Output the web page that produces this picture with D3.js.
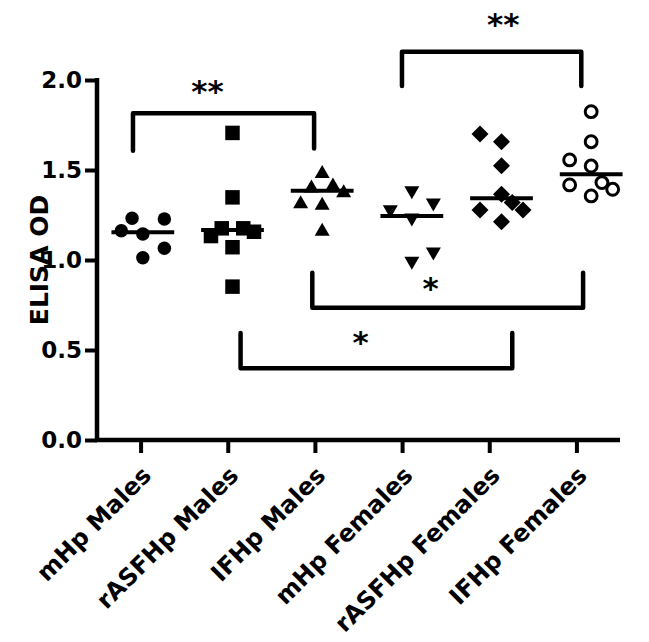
<!DOCTYPE html>
<html lang="en">
    <head>
        <meta charset="utf-8">
        <title>ELISA OD</title>
        <script src="https://d3js.org/d3.v7.min.js"></script>
        <style>
            body { margin: 0; background: #fff; }
            text { font-family: "DejaVu Sans", sans-serif; font-weight: bold; fill: #000; }
        </style>
    </head>
    <body>
        <script type="text/javascript">
            var width = 649, height = 642;

            // groups along the x axis
            var categories = ["mHp Males", "rASFHp Males", "IFHp Males",
                              "mHp Females", "rASFHp Females", "IFHp Females"];
            var yTicks = [0, 0.5, 1.0, 1.5, 2.0];

            // ELISA OD values per group
            var mHpMales      = [1.163, 1.232, 1.144, 1.228, 1.065, 1.013];
            var rASFHpMales   = [1.706, 1.348, 1.176, 1.176, 1.133, 1.157, 1.071, 0.852];
            var IFHpMales     = [1.491, 1.411, 1.422, 1.385, 1.324, 1.315, 1.171];
            var mHpFemales    = [1.374, 1.306, 1.268, 1.222, 1.033, 0.982];
            var rASFHpFemales = [1.700, 1.657, 1.524, 1.365, 1.278, 1.320, 1.278, 1.213];
            var IFHpFemales   = [1.824, 1.657, 1.556, 1.522, 1.417, 1.356, 1.430, 1.393];

            // column slot of each dot inside its group (scatter arrangement)
            var mHpMalesSlot      = [-2, -1, 0, 2, 2, 0];
            var rASFHpMalesSlot   = [0, 0, -1, 1, -2, 2, 0, 0];
            var IFHpMalesSlot     = [0, -1, 1, 2, -2, 0, 0];
            var mHpFemalesSlot    = [0, 2, -2, 0, 2, 0];
            var rASFHpFemalesSlot = [-2, 0, 0, 0, -2, 1, 2, 0];
            var IFHpFemalesSlot   = [0, 0, -2, 0, -2, 0, 1, 2];

            var values = [mHpMales, rASFHpMales, IFHpMales, mHpFemales, rASFHpFemales, IFHpFemales];
            var slots = [mHpMalesSlot, rASFHpMalesSlot, IFHpMalesSlot, mHpFemalesSlot, rASFHpFemalesSlot, IFHpFemalesSlot];

            // significance brackets: group positions (fractional), bar level, ends, label
            var bracketFrom  = [-0.11, 2.89, 1.89, 1.09];
            var bracketTo    = [1.91, 4.89, 4.91, 4.12];
            var bracketLevel = [1.815, 2.157, 0.735, 0.398];
            var bracketEndA  = [1.607, 1.967, 0.929, 0.594];
            var bracketEndB  = [1.620, 1.967, 0.929, 0.594];
            var bracketLabel = ["**", "**", "*", "*"];
            var labelPos     = [0.72, 4.02, 3.21, 2.43];
            var labelLevel   = [1.972, 2.343, 0.879, 0.578];

            var svg = d3.select("body")
                .append("svg")
                .attr("width", width)
                .attr("height", height);

            var y = d3.scaleLinear().domain([0, 2]).range([440, 80]);
            var x = d3.scalePoint().domain(categories).range([97, 620]).padding(0.5);
            // dots sit on a slightly wider spacing than the axis ticks
            var xm = d3.scalePoint().domain(categories).range([98, 636]).padding(0.5);
            function xAt(i) { return xm(categories[0]) + i * xm.step(); }
            var slotW = xm.step() * 0.12;

            // axes
            var yAxis = svg.append("g")
                .attr("transform", "translate(97,0)")
                .call(d3.axisLeft(y).tickValues(yTicks).tickFormat(d3.format(".1f"))
                    .tickSize(12).tickPadding(3).tickSizeOuter(0));
            var xAxis = svg.append("g")
                .attr("transform", "translate(0,440)")
                .call(d3.axisBottom(x).tickSize(13).tickSizeOuter(0).tickFormat(""));

            [yAxis, xAxis].forEach(function (g) {
                g.select(".domain").attr("stroke", "#000").attr("stroke-width", 4.5);
                g.selectAll(".tick line").attr("stroke", "#000").attr("stroke-width", 4);
            });
            yAxis.select(".domain").attr("d", "M0," + (y(2) - 2) + "V" + (y(0) + 2));
            xAxis.select(".domain").attr("d", "M95,0H620");
            yAxis.selectAll(".tick text")
                .style("font-size", "23px")
                .style("font-family", "'DejaVu Sans', sans-serif")
                .style("font-weight", "bold")
                .attr("fill", "#000");

            // rotated category labels
            svg.append("g").selectAll("text")
                .data(categories)
                .enter()
                .append("text")
                .attr("text-anchor", "end")
                .attr("font-size", 24)
                .attr("transform", function (d) {
                    return "translate(" + (x(d) + 12) + ",477) rotate(-45)";
                })
                .text(function (d) { return d; });

            // y axis title
            svg.append("text")
                .attr("text-anchor", "middle")
                .attr("font-size", 25)
                .attr("transform", "translate(48," + y(1) + ") rotate(-90)")
                .text("ELISA OD");

            // marker shapes
            var sym = {
                circle: d3.symbol().type(d3.symbolCircle).size(142)(),
                square: d3.symbol().type(d3.symbolSquare).size(210)(),
                triUp: "M0,-6.5L7.5,6.5L-7.5,6.5Z",
                triDown: "M0,6.5L7.5,-6.5L-7.5,-6.5Z",
                diamond: "M0,-8.5L8.5,0L0,8.5L-8.5,0Z",
                open: d3.symbol().type(d3.symbolCircle).size(110)()
            };
            var groupSym = ["circle", "square", "triUp", "triDown", "diamond", "open"];

            var points = [];
            values.forEach(function (arr, gi) {
                arr.forEach(function (v, j) {
                    points.push({ g: gi, v: v, s: slots[gi][j] });
                });
            });

            // median lines
            svg.append("g").selectAll("line")
                .data(values)
                .enter()
                .append("line")
                .attr("x1", function (d, i) { return xAt(i) - xm.step() * 0.35; })
                .attr("x2", function (d, i) { return xAt(i) + xm.step() * 0.35; })
                .attr("y1", function (d) { return y(d3.median(d)); })
                .attr("y2", function (d) { return y(d3.median(d)); })
                .attr("stroke", "#000")
                .attr("stroke-width", 4);

            svg.append("g").selectAll("path")
                .data(points)
                .enter()
                .append("path")
                .attr("d", function (d) { return sym[groupSym[d.g]]; })
                .attr("transform", function (d) {
                    return "translate(" + (xAt(d.g) + d.s * slotW) + "," + y(d.v) + ")";
                })
                .attr("fill", function (d) { return groupSym[d.g] == "open" ? "#fff" : "#000"; })
                .attr("stroke", function (d) { return groupSym[d.g] == "open" ? "#000" : "none"; })
                .attr("stroke-width", 3);

            // significance brackets
            var br = svg.append("g");
            bracketLabel.forEach(function (lab, i) {
                br.append("path")
                    .attr("d", "M" + xAt(bracketFrom[i]) + "," + y(bracketEndA[i]) +
                        "V" + y(bracketLevel[i]) + "H" + xAt(bracketTo[i]) +
                        "V" + y(bracketEndB[i]))
                    .attr("fill", "none")
                    .attr("stroke", "#000")
                    .attr("stroke-width", 4.5)
                    .attr("stroke-linecap", "round")
                    .attr("stroke-linejoin", "round");
                br.append("text")
                    .attr("text-anchor", "middle")
                    .attr("font-size", 31)
                    .attr("x", xAt(labelPos[i]))
                    .attr("y", y(labelLevel[i]) + 0.55 * 31)
                    .text(lab);
            });
        </script>
    </body>
</html>
